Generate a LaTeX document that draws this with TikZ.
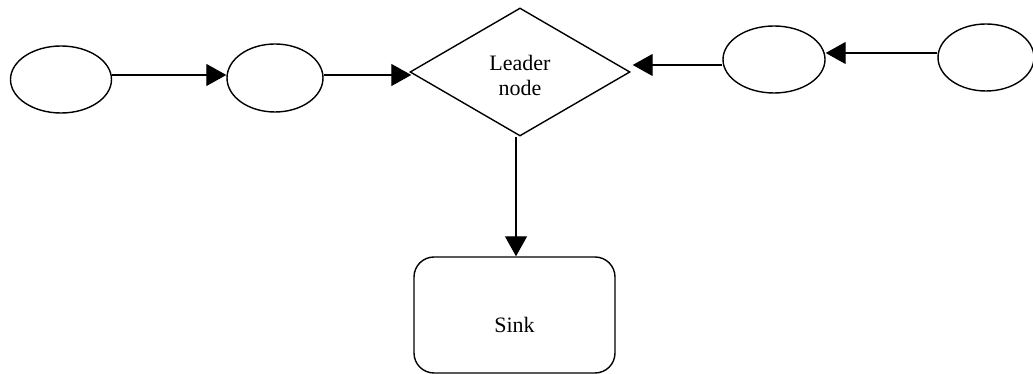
\documentclass[tikz,border=0pt]{standalone}
\usepackage{fontspec}
\setmainfont{Liberation Serif}
\usetikzlibrary{shapes.geometric,arrows.meta}

\begin{document}
\begin{tikzpicture}[x=1pt,y=1pt,
  every node/.style={font=\fontsize{22}{25}\selectfont, text=black},
  relay/.style={ellipse, draw, line width=1.4pt, inner sep=0pt},
  leader/.style={diamond, draw, line width=1.4pt, inner sep=0pt,
    minimum width=220pt, minimum height=128pt},
  sinkbox/.style={rectangle, rounded corners=20pt, draw, line width=1.4pt,
    minimum width=201pt, minimum height=116pt},
  link/.style={line width=1.2pt, -{Triangle[length=20pt,width=22pt]}}
]
\useasboundingbox (0,0) rectangle (1033,374);

% sensor nodes on the left and right
\node[relay, minimum width=101pt, minimum height=67pt] (e1) at (61,294.5) {};
\node[relay, minimum width=96pt,  minimum height=68pt] (e2) at (275,296) {};
\node[relay, minimum width=102pt, minimum height=67pt] (e3) at (774,314.5) {};
\node[relay, minimum width=96pt,  minimum height=67pt] (e4) at (986,316.5) {};

% cluster head and sink, captions set a little below centre
\node[leader, label={[yshift=-3pt, align=center]center:Leader\\node}] (L) at (520,302) {};
\node[sinkbox, label={[yshift=-10pt]center:Sink}] (S) at (514.5,59) {};

% data flow towards the leader
\draw[link] ([yshift=4.5pt]e1.east) -- ([yshift=4.5pt]e1.east -| e2.west);
\draw[link] ([yshift=3pt]e2.east) -- ([yshift=3pt,xshift=2pt]e2.east -| L.west);
\draw[link] ([yshift=4.5pt]e4.west) -- ([yshift=4.5pt]e4.west -| e3.east);
\draw[link] ([yshift=-5.5pt]e3.west) -- ([yshift=-5.5pt,xshift=2pt]e3.west -| L.east);

% leader forwards to the sink
\draw[link] ([xshift=-4pt]L.south) -- ([xshift=-4pt]L.south |- S.north);
\end{tikzpicture}
\end{document}
